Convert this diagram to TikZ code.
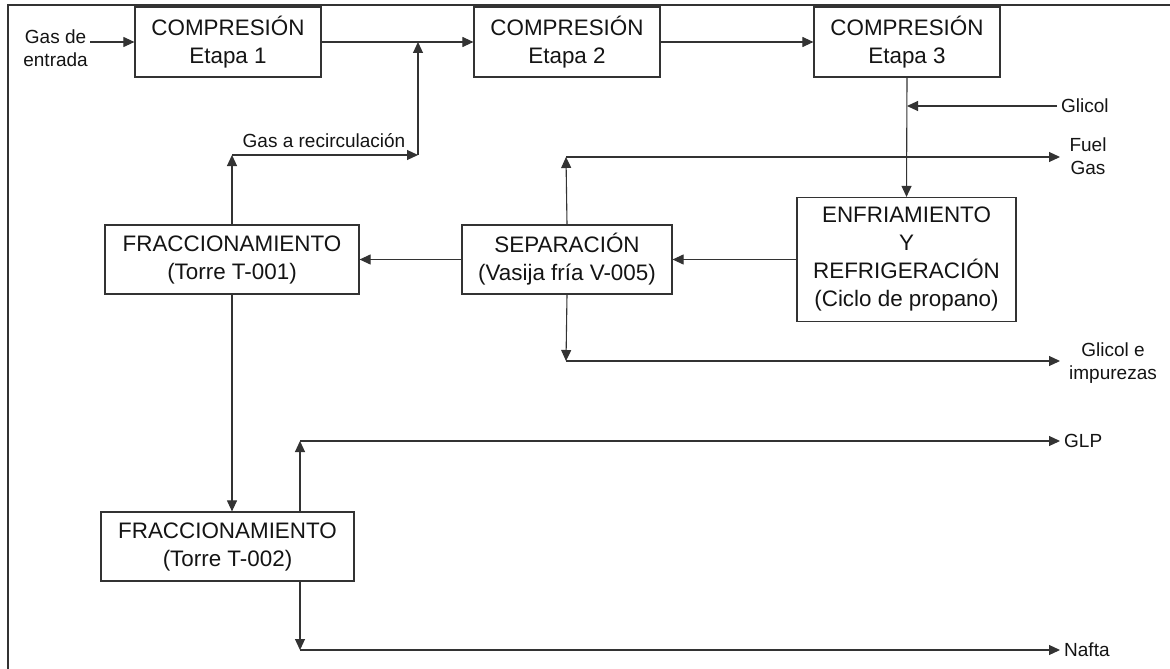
\documentclass[tikz,border=0pt]{standalone}
\usepackage{fontspec}
\setmainfont{Liberation Sans}
\usetikzlibrary{arrows.meta}
\definecolor{ln}{HTML}{333333}
\definecolor{tx}{HTML}{141414}
\tikzset{
  blk/.style={draw=ln, line width=1.2pt, fill=white, align=center, inner sep=0pt, text=tx,
    font=\fontsize{22.4}{28}\selectfont},
  lbl/.style={align=center, inner sep=0pt, text=tx, font=\fontsize{19}{23}\selectfont},
  arr/.style={draw=ln, line width=1.1pt, -{Triangle[length=11pt,width=10pt]}},
  frm/.style={draw=ln, line width=2pt}
}
\begin{document}
\begin{tikzpicture}[x=1pt,y=-1pt]
\useasboundingbox (0,0) rectangle (1170,669);
\fill[white] (0,0) rectangle (1170,669);
\draw[frm] (8,669) -- (8,5) -- (1170,5);

% boxes
\node[blk, minimum width=186pt, minimum height=70pt] (c1) at (228,42) {COMPRESIÓN\\Etapa 1};
\node[blk, minimum width=186pt, minimum height=70pt] (c2) at (567,42) {COMPRESIÓN\\Etapa 2};
\node[blk, minimum width=186pt, minimum height=70pt] (c3) at (907,42) {COMPRESIÓN\\Etapa 3};
\node[blk, minimum width=219pt, minimum height=124pt] (enf) at (906.5,259.5) {ENFRIAMIENTO\\Y\\REFRIGERACIÓN\\(Ciclo de propano)};
\node[blk, minimum width=210pt, minimum height=69pt] (sep) at (567,259.5) {SEPARACIÓN\\(Vasija fría V-005)};
\node[blk, minimum width=254pt, minimum height=69pt] (t1) at (232,259.5) {FRACCIONAMIENTO\\(Torre T-001)};
\node[blk, minimum width=253pt, minimum height=69pt] (t2) at (227.5,546.5) {FRACCIONAMIENTO\\(Torre T-002)};

% labels
\node[lbl, anchor=east] (lin) at (88,48) {Gas de\\entrada};
\node[lbl] (lrec) at (324,141) {Gas a recirculación};
\node[lbl, anchor=west] (lgl) at (1061,106) {Glicol};
\node[lbl] (lfuel) at (1088,156) {Fuel\\Gas};
\node[lbl] (lgli) at (1113,363) {Glicol e\\impurezas};
\node[lbl, anchor=west] (lglp) at (1064,441) {GLP};
\node[lbl, anchor=west] (lnaf) at (1064,650) {Nafta};

% coordinates
\coordinate (gin) at (90,42);
\coordinate (j1) at (418,42);
\coordinate (rc1) at (232,155);
\coordinate (rc2) at (418,155);
\coordinate (gls) at (1057,106);
\coordinate (glj) at (907,106);
\coordinate (fg1) at (566,157);
\coordinate (fg2) at (1060,157);
\coordinate (gi1) at (566,361);
\coordinate (gi2) at (1060,361);
\coordinate (lp1) at (300,441);
\coordinate (lp2) at (1060,441);
\coordinate (nf1) at (300,650);
\coordinate (nf2) at (1060,650);

% connectors
\draw[arr] (gin) -- (c1.west);
\draw[arr] (c1.east) -- (c2.west);
\draw[arr] (c2.east) -- (c3.west);
\draw[arr] (t1.north) -- (rc1);
\draw[arr] (rc1) -- (rc2);
\draw[arr] (rc2) -- (j1);
\draw[arr] (c3.south) -- (enf.north);
\draw[arr] (gls) -- (glj);
\draw[arr] (sep.north) -- (fg1);
\draw[arr] (fg1) -- (fg2);
\draw[arr] (enf.west) -- (sep.east);
\draw[arr] (sep.west) -- (t1.east);
\draw[arr] (sep.south) -- (gi1);
\draw[arr] (gi1) -- (gi2);
\draw[arr] (t1.south) -- (t1.south |- t2.north);
\draw[arr] (t2.north -| lp1) -- (lp1);
\draw[arr] (lp1) -- (lp2);
\draw[arr] (t2.south -| nf1) -- (nf1);
\draw[arr] (nf1) -- (nf2);
\end{tikzpicture}
\end{document}
